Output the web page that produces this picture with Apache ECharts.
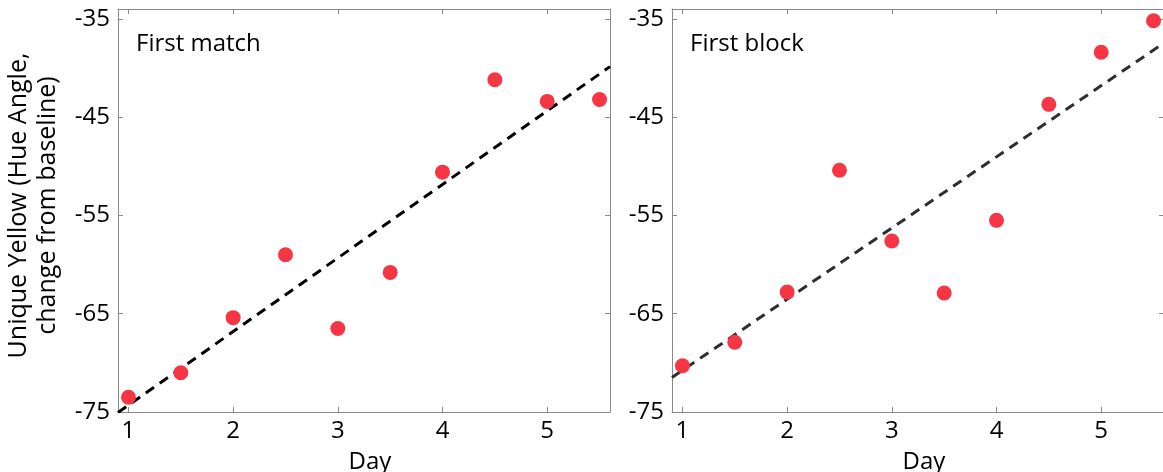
<!DOCTYPE html>
<html>
<head>
<meta charset="utf-8">
<script src="https://cdn.jsdelivr.net/npm/echarts@6/dist/echarts.min.js"></script>
<style>
  html, body { margin: 0; padding: 0; background: #fff; }
  #chart { width: 1163px; height: 472px; }
</style>
</head>
<body>
<div id="chart"></div>
<script>
// Day of testing (x) for both panels
const days = [1, 1.5, 2, 2.5, 3, 3.5, 4, 4.5, 5, 5.5];
// Unique yellow hue angle, change from baseline
const firstMatch = [-73.5, -71.0, -65.4, -59.0, -66.5, -60.8, -50.6, -41.2, -43.4, -43.2];
const firstBlock = [-70.3, -67.9, -62.8, -50.4, -57.6, -62.9, -55.5, -43.7, -38.4, -35.2];

const panelTitles = ['First match', 'First block'];
const xTicks = [1, 2, 3, 4, 5];
const yTicks = [-75, -65, -55, -45, -35];
const xRange = [0.9, 5.6];
const yRange = [-75, -34];

const FONT = '"Open Sans", sans-serif';
const AXIS_GRAY = '#8a8a8a';
const DOT_RED = '#f73645';

// Least-squares line evaluated at the ends of the x range
function fitLine(xs, ys) {
  const n = xs.length;
  const mx = xs.reduce((a, b) => a + b, 0) / n;
  const my = ys.reduce((a, b) => a + b, 0) / n;
  let sxy = 0, sxx = 0;
  for (let i = 0; i < n; i++) {
    sxy += (xs[i] - mx) * (ys[i] - my);
    sxx += (xs[i] - mx) * (xs[i] - mx);
  }
  const k = sxy / sxx;
  return xRange.map(x => [x, my + k * (x - mx)]);
}

const grids = [
  { left: 118, top: 9, width: 492, height: 403, outerBoundsMode: 'none' },
  { left: 672, top: 9, width: 492, height: 403, outerBoundsMode: 'none' }
];

const xAxes = [];
const yAxes = [];
grids.forEach((g, gi) => {
  // bottom axis with labels
  xAxes.push({
    type: 'value', gridIndex: gi, position: 'bottom',
    min: xRange[0], max: xRange[1],
    name: 'Day', nameLocation: 'middle', nameGap: 38,
    nameTextStyle: { fontFamily: FONT, fontSize: 24, color: '#000', padding: [0, 0, 0, 12] },
    axisLine: { show: true, onZero: false, lineStyle: { color: AXIS_GRAY, width: 1 } },
    axisTick: { show: true, inside: true, length: 5, customValues: xTicks, lineStyle: { color: AXIS_GRAY } },
    axisLabel: { show: true, customValues: xTicks, margin: 7, fontFamily: FONT, fontSize: 24, color: '#000' },
    splitLine: { show: false }
  });
  // top box edge
  xAxes.push({
    type: 'value', gridIndex: gi, position: 'top',
    min: xRange[0], max: xRange[1],
    axisLine: { show: true, onZero: false, lineStyle: { color: AXIS_GRAY, width: 1 } },
    axisTick: { show: true, inside: true, length: 5, customValues: xTicks, lineStyle: { color: AXIS_GRAY } },
    axisLabel: { show: false },
    splitLine: { show: false }
  });
  // left axis with labels
  yAxes.push({
    type: 'value', gridIndex: gi, position: 'left',
    min: yRange[0], max: yRange[1],
    name: gi === 0 ? 'Unique Yellow (Hue Angle,\nchange from baseline)' : '',
    nameLocation: 'middle', nameGap: 56, nameRotate: 90,
    nameTextStyle: { fontFamily: FONT, fontSize: 25, lineHeight: 29, color: '#000', align: 'center', padding: [0, 0, 0, 10] },
    axisLine: { show: true, onZero: false, lineStyle: { color: AXIS_GRAY, width: 1 } },
    axisTick: { show: true, inside: true, length: 5, customValues: yTicks, lineStyle: { color: AXIS_GRAY } },
    axisLabel: { show: true, customValues: yTicks, margin: 8, fontFamily: FONT, fontSize: 24, color: '#000' },
    splitLine: { show: false }
  });
  // right box edge
  yAxes.push({
    type: 'value', gridIndex: gi, position: 'right',
    min: yRange[0], max: yRange[1],
    axisLine: { show: true, onZero: false, lineStyle: { color: AXIS_GRAY, width: 1 } },
    axisTick: { show: true, inside: true, length: 5, customValues: yTicks, lineStyle: { color: AXIS_GRAY } },
    axisLabel: { show: false },
    splitLine: { show: false }
  });
});

const panels = [
  { values: firstMatch, lineColor: '#000000' },
  { values: firstBlock, lineColor: '#2e2e2e' }
];

const series = [];
panels.forEach((p, gi) => {
  series.push({
    type: 'line',
    xAxisIndex: gi * 2, yAxisIndex: gi * 2,
    data: fitLine(days, p.values),
    showSymbol: false, silent: true, z: 2,
    lineStyle: { color: p.lineColor, width: 3, type: [10, 7] }
  });
  series.push({
    type: 'scatter',
    xAxisIndex: gi * 2, yAxisIndex: gi * 2,
    data: days.map((d, i) => [d, p.values[i]]),
    symbol: 'circle', symbolSize: 15, z: 3,
    itemStyle: { color: DOT_RED, opacity: 1 }
  });
});

const chart = echarts.init(document.getElementById('chart'), null, { renderer: 'canvas' });
chart.setOption({
  animation: false,
  backgroundColor: '#ffffff',
  title: panelTitles.map((t, i) => ({
    text: t,
    left: grids[i].left + 13,
    top: 27,
    textStyle: { fontFamily: FONT, fontSize: 24, fontWeight: 'normal', color: '#000' }
  })),
  grid: grids,
  xAxis: xAxes,
  yAxis: yAxes,
  series: series
});
</script>
</body>
</html>
